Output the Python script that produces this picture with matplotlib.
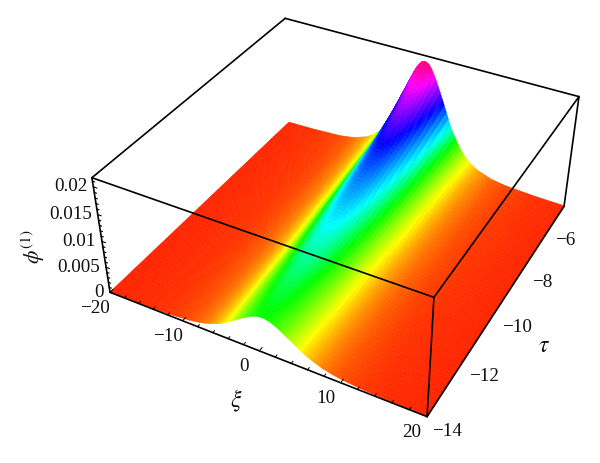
import numpy as np
import matplotlib
matplotlib.use("Agg")
import matplotlib.pyplot as plt
from matplotlib.colors import hsv_to_rgb
from mpl_toolkits.mplot3d import proj3d

plt.rcParams['font.family'] = ['Liberation Serif', 'DejaVu Serif']
plt.rcParams['mathtext.fontset'] = 'stix'

# ---- values ----
xi_limits = [-20, 20]
tau_limits = [-14, -5]
phi_limits = [0, 0.0216]

xi_ticks = [-20, -10, 0, 10, 20]
tau_ticks = [-14, -12, -10, -8, -6]
phi_ticks = [0, 0.005, 0.01, 0.015, 0.02]
phi_tick_labels = ['0', '0.005', '0.01', '0.015', '0.02']

# ridge of the surface, row by row along tau
tau_rows = [-14, -13, -12, -11, -10, -9, -8, -7, -6, -5]
ridge_height = [0.0068, 0.0075, 0.0083, 0.0092, 0.0103, 0.0116, 0.0131, 0.0150, 0.0174, 0.0206]
ridge_centre = [0.6, 0.55, 0.5, 0.45, 0.4, 0.35, 0.3, 0.25, 0.2, 0.1]
ridge_width = [4.8, 4.7, 4.6, 4.5, 4.45, 4.4, 4.3, 4.2, 4.1, 4.0]

# cross-section of the ridge: relative height against scaled distance from the centre
section_distance = [0, 0.125, 0.25, 0.375, 0.5, 0.75, 1.0, 1.25, 1.5, 1.75, 2.0, 2.5, 3.0, 4.0, 5.0, 6.0, 8.0]
section_height = [1.0, 0.985, 0.94, 0.87, 0.79, 0.62, 0.44, 0.31, 0.21, 0.145, 0.10, 0.05, 0.028, 0.012, 0.006, 0.002, 0.0]

# colour of the surface: hue against height
colour_height = [0, 0.0033, 0.0068, 0.0095, 0.0136, 0.0179, 0.0206]
colour_hue = [0.02, 0.167, 0.33, 0.5, 0.667, 0.83, 0.93]

# camera: where the eight corners of the box fall on the 600 x 463 picture
corner_unit = [(0, 0, 0), (1, 0, 0), (1, 1, 0), (0, 1, 0),
               (0, 0, 1), (1, 0, 1), (1, 1, 1), (0, 1, 1)]
corner_pixel = [(110, 292), (427, 417), (564, 206), (289, 123),
                (92, 178), (434, 297), (579, 97), (285, 18)]
picture_size = (600, 463)
tau_label_dx = [20, 21, 22, 18, 14]


def fit_camera():
    rows = []
    w, h = picture_size
    for (x, y, z), (px, py) in zip(corner_unit, corner_pixel):
        u, v = 2 * px / w - 1, 1 - 2 * py / h
        rows.append([x, y, z, 1, 0, 0, 0, 0, -u*x, -u*y, -u*z, -u])
        rows.append([0, 0, 0, 0, x, y, z, 1, -v*x, -v*y, -v*z, -v])
    p = np.linalg.svd(np.array(rows, float))[2][-1].reshape(3, 4)
    if p[2, 3] < 0:
        p = -p
    p = p / p[2, 3]
    unit = np.array([
        [1/(xi_limits[1]-xi_limits[0]), 0, 0, -xi_limits[0]/(xi_limits[1]-xi_limits[0])],
        [0, 1/(tau_limits[1]-tau_limits[0]), 0, -tau_limits[0]/(tau_limits[1]-tau_limits[0])],
        [0, 0, 1/(phi_limits[1]-phi_limits[0]), 0],
        [0, 0, 0, 1]])
    m = np.vstack([p[0], p[1], [0, 0, 0, -1], p[2]])
    return m @ unit


M = fit_camera()

fig = plt.figure(figsize=(6, 4.63), dpi=100)
ax = fig.add_axes([0, 0, 1, 1], projection='3d', computed_zorder=False)
ax.set_xlim(*xi_limits)
ax.set_ylim(*tau_limits)
ax.set_zlim(*phi_limits)
ax.set_axis_off()


def camera():
    ax.viewLim.intervalx = (-1, 1)
    ax.viewLim.intervaly = (-1, 1)
    return M


ax.get_proj = camera
ax.apply_aspect = lambda position=None: None
camera()

# ---- surface ----
xi = np.linspace(xi_limits[0], xi_limits[1], 121)
tau = np.linspace(tau_limits[0], tau_limits[1], 70)
XI, TAU = np.meshgrid(xi, tau)
height = np.interp(TAU, tau_rows, ridge_height)
centre = np.interp(TAU, tau_rows, ridge_centre)
width = np.interp(TAU, tau_rows, ridge_width)
PHI = height * np.interp(np.abs(XI - centre) / width, section_distance, section_height)

cell = PHI.copy()
cell[:-1, :-1] = (PHI[:-1, :-1] + PHI[1:, :-1] + PHI[:-1, 1:] + PHI[1:, 1:]) / 4
hue = np.interp(cell, colour_height, colour_hue)
colours = hsv_to_rgb(np.dstack([hue, np.ones_like(hue), np.ones_like(hue)]))
ax.plot_surface(XI, TAU, PHI, facecolors=colours, rstride=1, cstride=1,
                shade=False, linewidth=0.35, antialiased=True, zorder=2)

# ---- box ----
x0, x1 = xi_limits
y0, y1 = tau_limits
z0, z1 = phi_limits
box_edges = [
    ((x0, x1), (y0, y0), (z0, z0)), ((x1, x1), (y0, y1), (z0, z0)),
    ((x0, x1), (y0, y0), (z1, z1)), ((x1, x1), (y0, y1), (z1, z1)),
    ((x0, x1), (y1, y1), (z1, z1)), ((x0, x0), (y0, y1), (z1, z1)),
    ((x0, x0), (y0, y0), (z0, z1)), ((x1, x1), (y0, y0), (z0, z1)),
    ((x1, x1), (y1, y1), (z0, z1)),
]
for ex, ey, ez in box_edges:
    ax.plot(ex, ey, ez, color='black', lw=1.2, zorder=4, solid_capstyle='round')

# ---- ticks ----
for v in np.arange(-20, 20.5, 2):
    size = 0.13 if v % 10 == 0 else 0.08
    ax.plot((v, v), (y0, y0 + size), (z0, z0), color='black', lw=0.7, zorder=4)
for v in np.arange(0, 0.0211, 0.001):
    size = 0.45 if round(v*1000) % 5 == 0 else 0.28
    ax.plot((x0, x0 + size), (y0, y0), (v, v), color='black', lw=0.8, zorder=4)


# ---- labels ----
def label(x, y, z, dx, dy, text, **kw):
    u, v, _ = proj3d.proj_transform(x, y, z, M)
    kw.setdefault('ha', 'center')
    kw.setdefault('va', 'center')
    kw.setdefault('fontsize', 13.8)
    ax.annotate(text, (u, v), xytext=(dx, dy), textcoords='offset pixels',
                color='#111111', annotation_clip=False, **kw)


for v in xi_ticks:
    label(v, y0, z0, -15, -16, f'{v}'.replace('-', '\u2212'))
for v, dx in zip(tau_ticks, tau_label_dx):
    label(x1, v, z0, dx, -15, f'{v}'.replace('-', '\u2212'))
for v, s in zip(phi_ticks, phi_tick_labels):
    label(x0, y0, v, -6, 0, s, ha='right')

label(0, y0, z0, -23, -50, r'$\xi$', fontsize=17)
label(x1, -10, z0, 49, -34, r'$\tau$', fontsize=17)
label(x0, y0, 0.0105, -68, -8, r'$\phi^{(1)}$', fontsize=15.5, rotation=90)

fig.savefig('out.png', dpi=100)
